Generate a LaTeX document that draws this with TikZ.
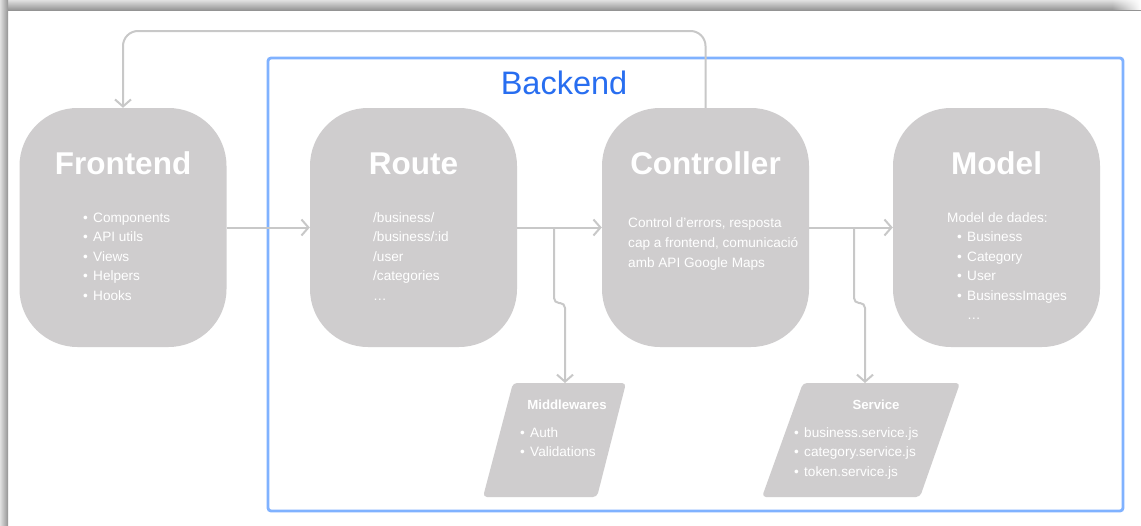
\documentclass[tikz,border=0pt]{standalone}
\usepackage{fontspec}
\setmainfont{Liberation Sans}
\usetikzlibrary{arrows.meta,fadings}
\definecolor{boxgray}{RGB}{207,205,206}
\definecolor{linegray}{RGB}{200,200,200}
\definecolor{frameblue}{RGB}{128,178,255}
\definecolor{textblue}{RGB}{40,110,240}
\newcommand\itembul{\makebox[10pt][l]{•}}
\begin{document}
\begin{tikzpicture}[x=1pt,y=-1pt,
  block/.style={fill=boxgray, rounded corners=58pt, minimum width=207pt,
    minimum height=239pt, inner sep=0pt},
  para/.style={fill=boxgray, rounded corners=4pt},
  title/.style={font=\fontsize{31.5}{36}\selectfont\bfseries, text=white,
    anchor=base, inner sep=0pt},
  subtitle/.style={font=\fontsize{13.2}{16}\selectfont\bfseries, text=white,
    anchor=base, inner sep=0pt},
  % lists are placed by the baseline of their last line
  body/.style={font=\fontsize{13.6}{19.5}\selectfont, text=white,
    anchor=base west, align=left, inner sep=0pt},
  conn/.style={draw=linegray, line width=2pt,
    -{Straight Barb[length=7pt,width=16pt]}},
  frame/.style={draw=frameblue, line width=2.8pt, rounded corners=3pt,
    minimum width=855pt, minimum height=453pt, inner sep=0pt}]
\useasboundingbox (0,0) rectangle (1141,525);

% page with its drop shadow
\fill[white] (0,0) rectangle (1141,525);
\shade[top color=black!12, bottom color=black!42] (0,0) rectangle (1141,10);
\shade[left color=black!12, right color=black!42] (0,0) rectangle (8,525);
\fill[white, path fading=west] (1112,0) rectangle (1141,10);

% backend frame
\node[frame] (backend) at (695.5,284.5) {};
\node[text=textblue, font=\fontsize{32.5}{38}\selectfont, anchor=base,
  inner sep=0pt] (bl) at (564,94) {Backend};

% main blocks
\node[block] (fe) at (123,227.5) {};
\node[block] (ro) at (413.5,227.5) {};
\node[block] (ct) at (705.5,227.5) {};
\node[block] (md) at (996.5,227.5) {};

\node[title] (fet) at (123,174) {Frontend};
\node[title] (rot) at (413.5,174) {Route};
\node[title] (ctt) at (705.5,174) {Controller};
\node[title] (mdt) at (996.5,174) {Model};

\node[body] (fel) at (83,300) {\itembul Components\\\itembul API utils\\
  \itembul Views\\\itembul Helpers\\\itembul Hooks};
\node[body] (rol) at (373,300) {/business/\\/business/:id\\/user\\
  /categories\\…};
\node[body, font=\fontsize{13.6}{20}\selectfont] (ctl) at (628,267)
  {Control d’errors, resposta\\cap a frontend, comunicació\\amb API Google Maps};
\node[body] (mdl) at (947,319.5) {Model de dades:\\
  \hspace*{10pt}\itembul Business\\\hspace*{10pt}\itembul Category\\
  \hspace*{10pt}\itembul User\\\hspace*{10pt}\itembul BusinessImages\\
  \hspace*{20pt}…};

% parallelogram blocks
\fill[para] (513,383) -- (626,383) -- (597,497) -- (483,497) -- cycle;
\fill[para] (803,383) -- (960,383) -- (920,497) -- (762,497) -- cycle;
\coordinate (mwtop) at (565,383);
\coordinate (svtop) at (865,383);
\node[subtitle] (mwt) at (567,409) {Middlewares};
\node[body] (mwl) at (520,456.5) {\itembul Auth\\\itembul Validations};
\node[subtitle] (svt) at (876,409) {Service};
\node[body] (svl) at (794,476) {\itembul business.service.js\\
  \itembul category.service.js\\\itembul token.service.js};

% connectors
\draw[conn] (fe.east) -- (ro.west);
\draw[conn] (ro.east) -- (ct.west);
\draw[conn] (ct.east) -- (md.west);
\coordinate (br1) at (554,227.5);
\coordinate (br2) at (854,227.5);
\draw[conn, rounded corners=5pt] (br1) -- (554,303) -- (565,303) -- (mwtop);
\draw[conn, rounded corners=5pt] (br2) -- (854,303) -- (865,303) -- (svtop);
\draw[conn, rounded corners=15pt] (ct.north) -- (ct.north |- 0,31)
  -- (fe.north |- 0,31) -- (fe.north);
\end{tikzpicture}
\end{document}
